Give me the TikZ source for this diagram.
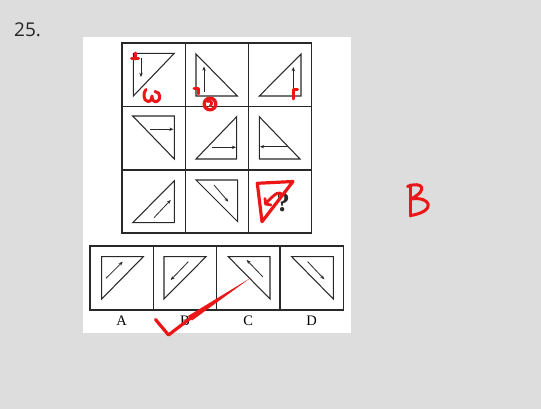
\documentclass[tikz,border=0pt]{standalone}
\usepackage{fontspec}
\setmainfont{Liberation Serif}
\newfontfamily\numfont{Open Sans}
\usetikzlibrary{arrows.meta}
\definecolor{bgc}{RGB}{221,221,221}
\definecolor{mk}{RGB}{236,22,22}
\definecolor{ink}{RGB}{40,40,40}
\begin{document}
\begin{tikzpicture}[x=1pt,y=-1pt,
  tri/.style={draw=ink,line width=1.05pt,line join=miter},
  arr/.style={draw=ink,line width=0.8pt,-{Stealth[length=4.2pt,width=3.4pt]}},
  gridline/.style={draw=ink,line width=1.3pt},
  redmark/.style={draw=mk,line width=3pt,line cap=round,line join=round},
  lab/.style={font=\fontsize{14.5}{15}\selectfont,inner sep=0pt}]
\fill[bgc] (0,0) rectangle (541,409);
\useasboundingbox (0,0) rectangle (541,409);
\fill[white] (83.3,36.7) rectangle (350.7,333.3);

\node[font=\numfont\fontsize{19}{20}\selectfont,anchor=west,inner sep=0pt,text=black!85] (num) at (14,29.5) {25.};

% grid
\draw[gridline] (122,43) rectangle (311.5,233);
\draw[gridline] (185.5,43) -- (185.5,233) (248.5,43) -- (248.5,233);
\draw[gridline] (122,106.5) -- (311.5,106.5) (122,170) -- (311.5,170);

% row 1
\draw[tri] (133.3,53.3) -- (174.3,53.3) -- (133.3,96) -- cycle;
\draw[arr] (141,58.3) -- (141,77);
\draw[tri] (196,54) -- (196,96) -- (237.3,96) -- cycle;
\draw[arr] (204,91.7) -- (204,66.5);
\draw[tri] (301,54) -- (301,96) -- (259.3,96) -- cycle;
\draw[arr] (293.3,91.7) -- (293.3,67);

% row 2
\draw[tri] (132.7,116) -- (174.3,116) -- (174.3,159) -- cycle;
\draw[arr] (150,129.3) -- (173.5,129.3);
\draw[tri] (236.7,116.7) -- (236.7,159) -- (196,159) -- cycle;
\draw[arr] (211.7,147.3) -- (236,147.3);
\draw[tri] (259.3,116.7) -- (259.3,159) -- (300,159) -- cycle;
\draw[arr] (288.3,146.7) -- (260,146.7);

% row 3
\draw[tri] (174.3,180.7) -- (174.3,222.7) -- (132.7,222.7) -- cycle;
\draw[arr] (154,217.7) -- (170.7,200);
\draw[tri] (196,180) -- (237.7,180) -- (237.7,221.7) -- cycle;
\draw[arr] (214,185) -- (228.3,201.7);
\node[font=\bfseries\fontsize{27}{28}\selectfont,inner sep=0pt,text=ink] (q) at (283,203) {?};

% options
\draw[gridline] (90,246) rectangle (343.3,310);
\draw[gridline] (153.3,246) -- (153.3,310) (216.7,246) -- (216.7,310) (280,246) -- (280,310);
\draw[tri] (101.7,256.7) -- (143.3,256.7) -- (101.7,299) -- cycle;
\draw[arr] (106,278.3) -- (122.7,261.7);
\draw[tri] (164,256.7) -- (206,256.7) -- (164,299) -- cycle;
\draw[arr] (188.3,261.7) -- (170.7,280);
\draw[tri] (228.3,256.7) -- (270,256.7) -- (270,299) -- cycle;
\draw[arr] (262.7,276.7) -- (246.7,260);
\draw[tri] (291.7,256.7) -- (333.3,256.7) -- (333.3,299) -- cycle;
\draw[arr] (307.7,261.7) -- (324.3,279.3);

\node[lab] (la) at (121.7,321) {A};
\node[lab] (lb) at (185,321) {B};
\node[lab] (lc) at (248.3,321) {C};
\node[lab] (ld) at (311.7,321) {D};

% red annotations
\draw[redmark] (131.5,59) -- (138.5,59) (135,53) -- (135,59);
\draw[redmark] (146,89.5) .. controls (143,92) and (143,101) .. (148,101.5)
  .. controls (151,101.8) and (152,98) .. (152,96)
  .. controls (152,100) and (154,102.5) .. (157,101.5)
  .. controls (161,100) and (161,92) .. (155,91.5);
\draw[redmark] (194,89) -- (198.5,89) -- (198.5,94);
\draw[redmark,line width=3.4pt] (210,104) circle (5.8);
\draw[redmark,line width=2.6pt] (207.5,101.5) .. controls (212,100) and (213,104) .. (210,106);
\draw[redmark] (297.5,90) -- (293.3,90) -- (293.3,99);

\draw[redmark,line width=3.2pt] (257.3,183.3) -- (293,181.5) -- (262,221.7) -- cycle;
\draw[redmark,line width=2.8pt] (281.5,196) .. controls (281,190) and (276,192) .. (265.5,204)
  (265,198.5) -- (265.5,204) -- (271,205);

\draw[redmark,line width=3.2pt] (155.5,319.5) -- (168.5,335) -- (190,318.5);
\fill[mk] (188,316) -- (250,278.3) -- (192,320.5) -- cycle;

\draw[redmark,line width=3pt] (410,185) -- (410,216);
\draw[redmark,line width=3pt] (407.5,186.5) .. controls (421,181) and (430,189) .. (411,199)
  .. controls (431,196) and (437,211) .. (411,215.5);
\end{tikzpicture}
\end{document}
